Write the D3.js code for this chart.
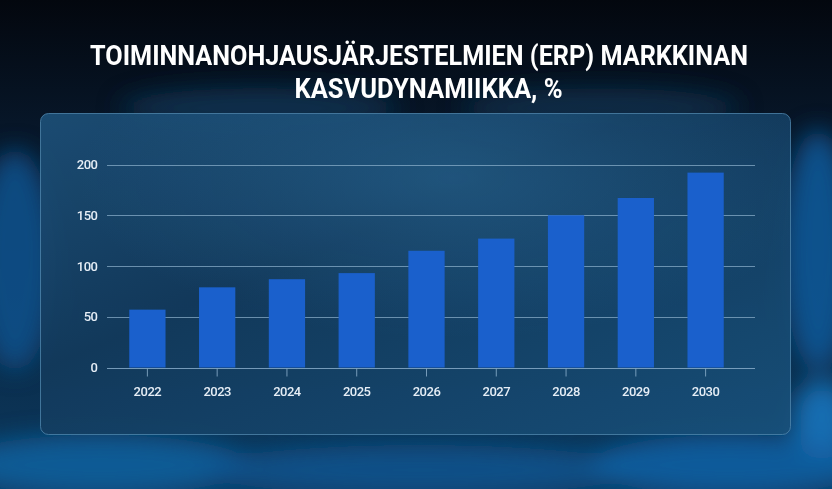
<!DOCTYPE html>
<html>
<head>
<meta charset="utf-8">
<script src="https://cdn.jsdelivr.net/npm/d3@7"></script>
<style>
  html, body { margin: 0; padding: 0; background: #040a14; }
  svg { display: block; }
</style>
</head>
<body>
<svg id="chart"></svg>
<script>
// ERP market growth, %
const years = ["2022", "2023", "2024", "2025", "2026", "2027", "2028", "2029", "2030"];
const growth = [57, 79, 87, 93, 115, 127, 150, 167, 192];
const yTicks = [0, 50, 100, 150, 200];
const titleLines = ["TOIMINNANOHJAUSJÄRJESTELMIEN (ERP) MARKKINAN", "KASVUDYNAMIIKKA, %"];

const width = 832;
const height = 489;

const svg = d3.select("#chart")
  .attr("width", width)
  .attr("height", height);

const defs = svg.append("defs");

// Background: dark navy with blurred blue light
const bgGrad = defs.append("linearGradient")
  .attr("id", "bgGrad")
  .attr("x1", 0).attr("y1", 0).attr("x2", 0).attr("y2", 1);
bgGrad.append("stop").attr("offset", "0%").attr("stop-color", "#03070e");
bgGrad.append("stop").attr("offset", "25%").attr("stop-color", "#071628");
bgGrad.append("stop").attr("offset", "100%").attr("stop-color", "#0c3a60");

defs.append("filter")
  .attr("id", "blur")
  .attr("x", "-50%").attr("y", "-50%").attr("width", "200%").attr("height", "200%")
  .append("feGaussianBlur").attr("stdDeviation", 12);

const panelGrad = defs.append("linearGradient")
  .attr("id", "panelGrad")
  .attr("x1", 0).attr("y1", 0).attr("x2", 1).attr("y2", 1);
panelGrad.append("stop").attr("offset", "0%").attr("stop-color", "#1d5078");
panelGrad.append("stop").attr("offset", "40%").attr("stop-color", "#133a5c");
panelGrad.append("stop").attr("offset", "100%").attr("stop-color", "#18507a");

const panelGlow = defs.append("radialGradient")
  .attr("id", "panelGlow")
  .attr("cx", "0.55").attr("cy", "0.2").attr("r", "0.5");
panelGlow.append("stop").attr("offset", "0%").attr("stop-color", "#2a6a98").attr("stop-opacity", 0.55);
panelGlow.append("stop").attr("offset", "100%").attr("stop-color", "#2a6a98").attr("stop-opacity", 0);

svg.append("rect")
  .attr("width", width)
  .attr("height", height)
  .attr("fill", "url(#bgGrad)");

// soft light blobs around the panel
const glows = [
  { cx: 15, cy: 260, rx: 40, ry: 110, c: "#0f4f88", o: 0.9 },
  { cx: 818, cy: 250, rx: 35, ry: 120, c: "#0f5796", o: 0.9 },
  { cx: 822, cy: 420, rx: 30, ry: 40, c: "#1d7cc8", o: 0.8 },
  { cx: 100, cy: 465, rx: 150, ry: 30, c: "#11609f", o: 0.85 },
  { cx: 420, cy: 470, rx: 220, ry: 25, c: "#0f5592", o: 0.8 },
  { cx: 730, cy: 465, rx: 140, ry: 30, c: "#1262a6", o: 0.85 },
  { cx: 260, cy: 108, rx: 140, ry: 20, c: "#0e3a5e", o: 0.7 },
  { cx: 600, cy: 108, rx: 140, ry: 20, c: "#0e3a5e", o: 0.6 }
];
svg.append("g")
  .attr("filter", "url(#blur)")
  .selectAll("ellipse")
  .data(glows)
  .enter()
  .append("ellipse")
  .attr("cx", d => d.cx)
  .attr("cy", d => d.cy)
  .attr("rx", d => d.rx)
  .attr("ry", d => d.ry)
  .attr("fill", d => d.c)
  .attr("opacity", d => d.o);

// Title lines (condensed to reference widths)
const titlePos = [
  { cx: 419, y: 65, w: 658 },
  { cx: 428.5, y: 98, w: 268 }
];
svg.append("g")
  .selectAll("text")
  .data(titleLines)
  .enter()
  .append("text")
  .attr("x", (d, i) => titlePos[i].cx)
  .attr("y", (d, i) => titlePos[i].y)
  .attr("text-anchor", "middle")
  .attr("textLength", (d, i) => titlePos[i].w)
  .attr("lengthAdjust", "spacingAndGlyphs")
  .attr("fill", "#ffffff")
  .style("font-family", "Roboto, 'Liberation Sans', sans-serif")
  .style("font-weight", "bold")
  .style("font-size", "28px")
  .text(d => d);

// Panel
svg.append("rect")
  .attr("x", 40.5)
  .attr("y", 113.5)
  .attr("width", 750)
  .attr("height", 321)
  .attr("rx", 8)
  .attr("fill", "url(#panelGrad)")
  .attr("fill-opacity", 0.93)
  .attr("stroke", "#4f86ad")
  .attr("stroke-opacity", 0.8)
  .attr("stroke-width", 1);
svg.append("rect")
  .attr("x", 41)
  .attr("y", 114)
  .attr("width", 749)
  .attr("height", 320)
  .attr("rx", 8)
  .attr("fill", "url(#panelGlow)");

// Scales
const x = d3.scaleBand()
  .domain(years)
  .range([112.5, 740.5])
  .paddingInner(0.48)
  .paddingOuter(0.24);

const y = d3.scaleLinear()
  .domain([0, 200])
  .range([367.5, 164.5]);

const gridLeft = 107;
const gridRight = 755;

// Gridlines
svg.append("g")
  .selectAll("line")
  .data(yTicks.filter(t => t > 0))
  .enter()
  .append("line")
  .attr("x1", gridLeft)
  .attr("x2", gridRight)
  .attr("y1", d => Math.round(y(d)) + 0.5)
  .attr("y2", d => Math.round(y(d)) + 0.5)
  .attr("stroke", "#8fb3cf")
  .attr("stroke-opacity", 0.7)
  .attr("stroke-width", 1);

// Bars
svg.append("g")
  .selectAll("rect")
  .data(years)
  .enter()
  .append("rect")
  .attr("x", d => x(d))
  .attr("y", (d, i) => y(growth[i]))
  .attr("width", x.bandwidth())
  .attr("height", (d, i) => y(0) - y(growth[i]))
  .attr("fill", "#1a60cc");

// X axis
const xAxis = svg.append("g")
  .attr("transform", `translate(0,${Math.round(y(0)) + 0.5})`)
  .call(d3.axisBottom(x).tickSize(8).tickPadding(10));
xAxis.select(".domain").remove();
xAxis.append("line")
  .attr("x1", gridLeft)
  .attr("x2", gridRight)
  .attr("stroke", "#8fb3cf")
  .attr("stroke-opacity", 0.8);
xAxis.selectAll(".tick line")
  .attr("stroke", "#8fb3cf")
  .attr("stroke-opacity", 0.8);
xAxis.selectAll(".tick text")
  .attr("fill", "#e6eef6")
  .style("font-family", "Roboto, 'Liberation Sans', sans-serif")
  .style("font-size", "13px")
  .style("font-weight", "500")
  .style("letter-spacing", "-0.5px");

// Y axis labels
const yAxis = svg.append("g")
  .attr("transform", "translate(97.5,0)")
  .call(d3.axisLeft(y).tickValues(yTicks).tickSize(0).tickPadding(0));
yAxis.select(".domain").remove();
yAxis.selectAll(".tick text")
  .attr("fill", "#e6eef6")
  .style("font-family", "Roboto, 'Liberation Sans', sans-serif")
  .style("font-size", "13px")
  .style("font-weight", "500")
  .style("letter-spacing", "-0.5px");
</script>
</body>
</html>
